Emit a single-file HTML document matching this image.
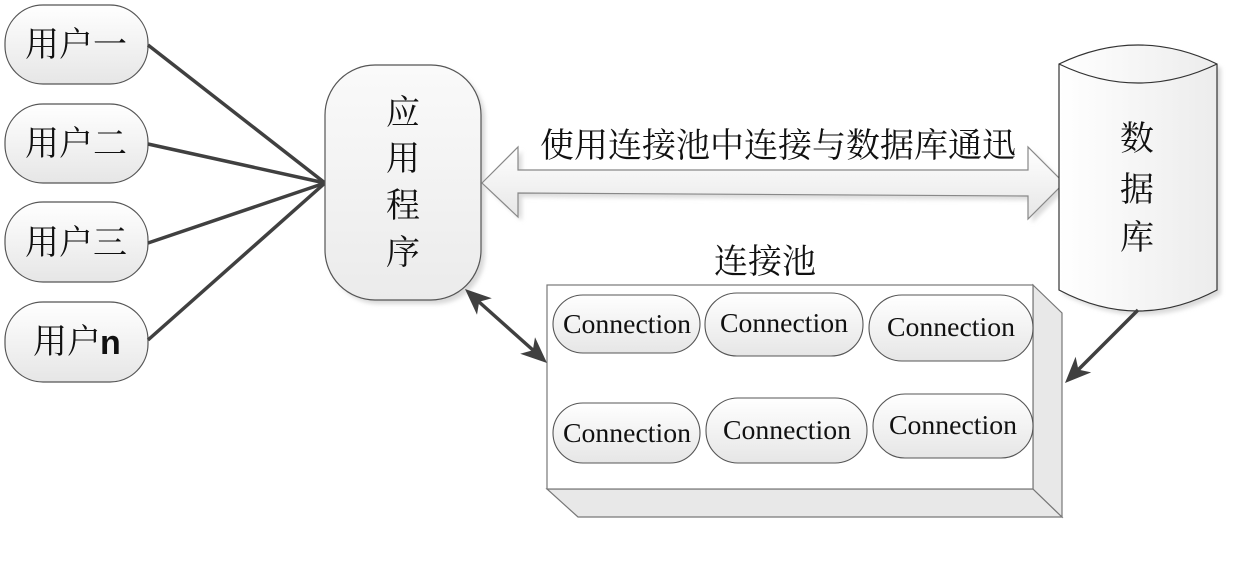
<!DOCTYPE html>
<html><head><meta charset="utf-8">
<style>
html,body{margin:0;padding:0;background:#fff;}
svg{display:block;}
.cj{font-family:"Noto Serif CJK SC","Liberation Serif",serif;fill:#111;}
.cn{font-family:"Liberation Serif",serif;fill:#111;}
</style></head>
<body>
<svg width="1255" height="567" viewBox="0 0 1255 567" xmlns="http://www.w3.org/2000/svg">
<defs>
<linearGradient id="gv" x1="0" y1="0" x2="0" y2="1">
<stop offset="0" stop-color="#ffffff"/><stop offset="1" stop-color="#e6e6e6"/>
</linearGradient>
<linearGradient id="gh" x1="0" y1="0" x2="1" y2="0">
<stop offset="0" stop-color="#ffffff"/><stop offset="1" stop-color="#ececec"/>
</linearGradient>
<linearGradient id="ga" x1="0" y1="0" x2="0" y2="1">
<stop offset="0" stop-color="#fafafa"/><stop offset="1" stop-color="#ebebeb"/>
</linearGradient>
<filter id="blur" x="-10%" y="-10%" width="120%" height="120%"><feGaussianBlur stdDeviation="2"/></filter>
</defs>

<!-- users -->
<g stroke="#555" stroke-width="1.2" fill="url(#gv)">
<rect x="5" y="5" width="143" height="79" rx="38" ry="38"/>
<rect x="5" y="104" width="143" height="79" rx="38" ry="38"/>
<rect x="5" y="202" width="143" height="80" rx="38" ry="38"/>
<rect x="5" y="302" width="143" height="80" rx="38" ry="38"/>
</g>
<g class="cj" font-size="34" text-anchor="middle">
<text x="76" y="56">用户一</text>
<text x="76" y="155">用户二</text>
<text x="76" y="254">用户三</text>
<text x="67" y="353">用户</text>
</g>
<text x="100" y="354" font-family="Liberation Sans, sans-serif" font-size="34" font-weight="bold" fill="#111">n</text>

<!-- user lines -->
<g stroke="#404040" stroke-width="3.5" fill="none">
<line x1="148" y1="45" x2="325" y2="183"/>
<line x1="148" y1="144" x2="325" y2="183"/>
<line x1="148" y1="243" x2="325" y2="183"/>
<line x1="148" y1="340" x2="325" y2="183"/>
</g>

<!-- app box -->
<rect x="329" y="69" width="156" height="235" rx="50" ry="50" fill="#d8d8d8" filter="url(#blur)"/>
<rect x="325" y="65" width="156" height="235" rx="50" ry="50" fill="url(#ga)" stroke="#555" stroke-width="1.2"/>
<g class="cj" font-size="34" text-anchor="middle">
<text x="403" y="124">应</text>
<text x="403" y="170">用</text>
<text x="403" y="217">程</text>
<text x="403" y="264">序</text>
</g>

<!-- big double arrow -->
<polygon points="486,187 522,151 522,174 1032,174 1032,151 1068,187 1032,223 1032,200 522,197 522,221" fill="#dcdcdc" filter="url(#blur)"/>
<polygon points="482,183 518,147 518,170 1028,170 1028,147 1064,183 1028,219 1028,196 518,193 518,217" fill="url(#gv)" stroke="#888" stroke-width="1.2"/>
<text class="cj" x="778" y="157" font-size="34" text-anchor="middle">使用连接池中连接与数据库通迅</text>

<!-- database cylinder -->
<path d="M1063,68 Q1142,30 1221,68 L1221,294 Q1142,336 1063,294 Z" fill="#dadada" filter="url(#blur)"/>
<path d="M1059,64 Q1138,26 1217,64 L1217,290 Q1138,332 1059,290 Z" fill="url(#gh)" stroke="#333" stroke-width="1.2"/>
<path d="M1059,64 Q1138,102 1217,64" fill="none" stroke="#333" stroke-width="1.2"/>
<g class="cj" font-size="34" text-anchor="middle">
<text x="1137" y="150">数</text>
<text x="1137" y="201">据</text>
<text x="1137" y="249">库</text>
</g>

<!-- pool label -->
<text class="cj" x="765" y="273" font-size="34" text-anchor="middle">连接池</text>

<!-- pool box -->
<polygon points="547,489 1033,489 1062,517 578,517" fill="#e8e8e8" stroke="#777" stroke-width="1.2"/>
<polygon points="1033,285 1062,313 1062,517 1033,489" fill="#e8e8e8" stroke="#777" stroke-width="1.2"/>
<rect x="547" y="285" width="486" height="204" fill="#fff" stroke="#777" stroke-width="1.2"/>

<!-- connections -->
<g stroke="#555" stroke-width="1.1" fill="url(#gv)">
<rect x="553" y="295" width="147" height="58" rx="30" ry="29"/>
<rect x="705" y="293" width="158" height="63" rx="32" ry="31"/>
<rect x="869" y="295" width="164" height="66" rx="33" ry="33"/>
<rect x="553" y="403" width="147" height="60" rx="30" ry="30"/>
<rect x="706" y="398" width="161" height="65" rx="32" ry="32"/>
<rect x="873" y="394" width="160" height="64" rx="32" ry="32"/>
</g>
<g class="cn" font-size="27" text-anchor="middle">
<text x="627" y="333" textLength="128" lengthAdjust="spacingAndGlyphs">Connection</text>
<text x="784" y="332" textLength="128" lengthAdjust="spacingAndGlyphs">Connection</text>
<text x="951" y="336" textLength="128" lengthAdjust="spacingAndGlyphs">Connection</text>
<text x="627" y="442" textLength="128" lengthAdjust="spacingAndGlyphs">Connection</text>
<text x="787" y="439" textLength="128" lengthAdjust="spacingAndGlyphs">Connection</text>
<text x="953" y="434" textLength="128" lengthAdjust="spacingAndGlyphs">Connection</text>
</g>

<!-- app <-> pool arrow -->
<line x1="478" y1="301" x2="534" y2="351" stroke="#404040" stroke-width="3.5"/>
<polygon points="547,363 520.2,353.7 532.8,350.2 535.0,337.3" fill="#404040"/>
<polygon points="465,289 477.0,314.7 479.2,301.8 491.8,298.3" fill="#404040"/>

<!-- db -> pool arrow -->
<line x1="1138" y1="310" x2="1077" y2="371" stroke="#404040" stroke-width="3.5"/>
<polygon points="1065,383 1075.6,356.8 1078.4,369.6 1091.2,372.4" fill="#404040"/>
</svg>
</body></html>
